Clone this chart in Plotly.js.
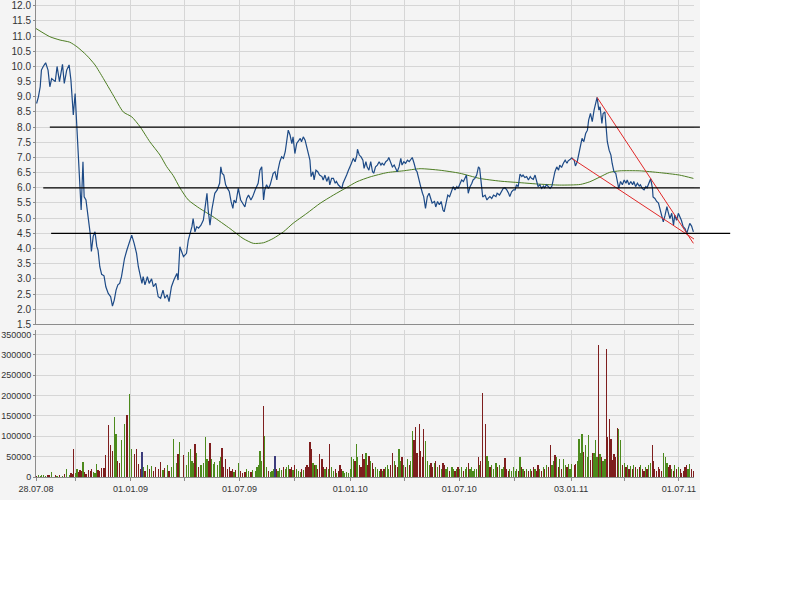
<!DOCTYPE html>
<html><head><meta charset="utf-8">
<script src="https://cdn.plot.ly/plotly-3.0.1.min.js"></script>
<style>html,body{margin:0;padding:0;background:#fff}#chart{width:800px;height:600px}</style>
</head><body><div id="chart"></div>
<script>
const priceDates = [
'2008-07-29','2008-08-01','2008-08-04','2008-08-06','2008-08-09','2008-08-13','2008-08-17','2008-08-20','2008-08-23','2008-08-29',
'2008-09-01','2008-09-05','2008-09-10','2008-09-13','2008-09-17','2008-09-21','2008-09-24','2008-09-27','2008-09-28','2008-10-01',
'2008-10-04','2008-10-06','2008-10-09','2008-10-11','2008-10-14','2008-10-16','2008-10-19','2008-10-23','2008-10-26','2008-10-28',
'2008-10-31','2008-11-03','2008-11-06','2008-11-08','2008-11-11','2008-11-14','2008-11-18','2008-11-21','2008-11-25','2008-11-29',
'2008-12-02','2008-12-05','2008-12-08','2008-12-11','2008-12-14','2008-12-17','2008-12-22','2008-12-26','2008-12-30','2009-01-03',
'2009-01-07','2009-01-11','2009-01-14','2009-01-17','2009-01-20','2009-01-22','2009-01-25','2009-01-29','2009-02-01','2009-02-05',
'2009-02-08','2009-02-12','2009-02-16','2009-02-20','2009-02-24','2009-02-27','2009-03-03','2009-03-06','2009-03-10','2009-03-14',
'2009-03-19','2009-03-21','2009-03-24','2009-03-30','2009-04-04','2009-04-07','2009-04-10','2009-04-13','2009-04-15','2009-04-18',
'2009-04-21','2009-04-24','2009-04-28','2009-05-02','2009-05-05','2009-05-08','2009-05-10','2009-05-13','2009-05-16','2009-05-19',
'2009-05-21','2009-05-25','2009-05-29','2009-05-31','2009-06-02','2009-06-05','2009-06-08','2009-06-11','2009-06-14','2009-06-17',
'2009-06-20','2009-06-22','2009-06-25','2009-06-29','2009-07-03','2009-07-06','2009-07-10','2009-07-13','2009-07-16','2009-07-20',
'2009-07-23','2009-07-27','2009-07-30','2009-08-01','2009-08-04','2009-08-07','2009-08-10','2009-08-12','2009-08-15','2009-08-18',
'2009-08-21','2009-08-24','2009-08-26','2009-08-29','2009-09-01','2009-09-03','2009-09-06','2009-09-09','2009-09-12','2009-09-15',
'2009-09-17','2009-09-20','2009-09-23','2009-09-26','2009-09-28','2009-10-01','2009-10-04','2009-10-07','2009-10-10','2009-10-12',
'2009-10-15','2009-10-18','2009-10-21','2009-10-23','2009-10-26','2009-10-28','2009-10-31','2009-11-02','2009-11-05','2009-11-08',
'2009-11-11','2009-11-15','2009-11-17','2009-11-20','2009-11-23','2009-11-26','2009-11-28','2009-12-01','2009-12-04','2009-12-07',
'2009-12-09','2009-12-12','2009-12-15','2009-12-18','2009-12-20','2009-12-23','2009-12-26','2009-12-29','2010-01-01','2010-01-03',
'2010-01-06','2010-01-09','2010-01-12','2010-01-13','2010-01-16','2010-01-19','2010-01-22','2010-01-24','2010-01-27','2010-01-29',
'2010-02-01','2010-02-04','2010-02-07','2010-02-09','2010-02-12','2010-02-15','2010-02-18','2010-02-21','2010-02-23','2010-02-26',
'2010-03-01','2010-03-04','2010-03-06','2010-03-09','2010-03-12','2010-03-15','2010-03-17','2010-03-20','2010-03-23','2010-03-26',
'2010-03-28','2010-03-31','2010-04-03','2010-04-06','2010-04-09','2010-04-11','2010-04-14','2010-04-17','2010-04-20','2010-04-22',
'2010-04-26','2010-04-28','2010-05-01','2010-05-03','2010-05-06','2010-05-09','2010-05-12','2010-05-15','2010-05-17','2010-05-21',
'2010-05-23','2010-05-26','2010-05-29','2010-06-01','2010-06-04','2010-06-06','2010-06-09','2010-06-12','2010-06-15','2010-06-19',
'2010-06-21','2010-06-24','2010-06-27','2010-06-29','2010-07-02','2010-07-05','2010-07-08','2010-07-11','2010-07-13','2010-07-16',
'2010-07-19','2010-07-22','2010-07-24','2010-07-27','2010-07-30','2010-08-02','2010-08-04','2010-08-06','2010-08-09','2010-08-13',
'2010-08-16','2010-08-18','2010-08-21','2010-08-24','2010-08-27','2010-08-31','2010-09-02','2010-09-06','2010-09-10','2010-09-12',
'2010-09-15','2010-09-18','2010-09-21','2010-09-23','2010-09-26','2010-09-29','2010-10-02','2010-10-04','2010-10-07','2010-10-10',
'2010-10-13','2010-10-15','2010-10-18','2010-10-21','2010-10-24','2010-10-27','2010-10-29','2010-11-01','2010-11-04','2010-11-07',
'2010-11-09','2010-11-12','2010-11-15','2010-11-18','2010-11-20','2010-11-23','2010-11-26','2010-11-29','2010-12-02','2010-12-04',
'2010-12-07','2010-12-10','2010-12-13','2010-12-15','2010-12-18','2010-12-21','2010-12-24','2010-12-27','2010-12-29','2011-01-01',
'2011-01-04','2011-01-08','2011-01-10','2011-01-13','2011-01-16','2011-01-19','2011-01-21','2011-01-24','2011-01-27','2011-01-30',
'2011-02-01','2011-02-04','2011-02-07','2011-02-10','2011-02-13','2011-02-15','2011-02-18','2011-02-20','2011-02-23','2011-02-25',
'2011-02-28','2011-03-02','2011-03-04','2011-03-07','2011-03-10','2011-03-12','2011-03-15','2011-03-18','2011-03-21','2011-03-23',
'2011-03-26','2011-03-29','2011-04-01','2011-04-04','2011-04-06','2011-04-09','2011-04-12','2011-04-15','2011-04-17','2011-04-20',
'2011-04-23','2011-04-26','2011-04-28','2011-05-01','2011-05-04','2011-05-07','2011-05-09','2011-05-12','2011-05-15','2011-05-18',
'2011-05-19','2011-05-22','2011-05-25','2011-05-28','2011-05-30','2011-06-02','2011-06-05','2011-06-08','2011-06-11','2011-06-13',
'2011-06-16','2011-06-19','2011-06-22','2011-06-24','2011-06-27','2011-06-30','2011-07-03','2011-07-05','2011-07-08','2011-07-11',
'2011-07-14','2011-07-16','2011-07-19','2011-07-22','2011-07-25'
];
const priceValues = [
8.78,9.00,9.33,9.88,10.00,10.12,9.88,9.33,9.60,9.50,
10.00,9.50,10.07,9.44,9.88,10.05,9.55,8.89,8.40,9.11,
8.00,7.13,6.36,5.27,6.86,5.70,5.60,5.05,4.50,3.90,
4.40,4.55,4.07,3.95,3.40,3.15,3.10,2.74,2.52,2.41,
2.10,2.30,2.63,2.80,2.85,3.07,3.67,3.95,4.22,4.44,
4.17,3.84,3.40,3.12,2.85,3.07,2.80,3.07,2.85,3.00,
2.74,2.85,2.41,2.36,2.63,2.36,2.47,2.25,2.74,2.96,
3.18,2.96,4.06,3.73,3.84,4.28,4.50,4.72,4.99,4.55,
4.72,4.67,4.77,4.94,5.37,5.82,5.27,4.77,5.27,5.65,
5.82,5.93,6.15,6.69,6.48,6.42,6.10,5.98,5.88,5.55,
5.32,5.60,5.50,5.98,5.60,5.50,5.37,5.65,5.76,5.60,
5.71,5.93,6.04,6.15,6.58,6.69,5.60,5.93,6.10,5.98,
6.10,6.37,6.48,6.53,6.26,6.58,6.86,7.02,6.97,7.19,
7.57,7.90,7.74,7.46,7.68,7.13,7.46,7.57,7.63,7.52,
7.68,7.57,7.35,7.19,6.91,6.37,6.53,6.26,6.58,6.53,
6.42,6.37,6.26,6.42,6.21,6.37,6.10,6.31,6.31,6.15,
6.21,6.10,6.04,5.98,6.15,6.26,6.42,6.58,6.69,6.81,
6.97,6.86,7.08,7.27,7.08,7.02,6.91,6.64,6.86,6.69,
6.58,6.86,6.53,6.48,6.69,6.75,6.86,6.75,6.81,6.75,
6.86,6.91,7.00,6.86,6.69,6.75,6.64,6.53,6.69,6.97,
6.75,6.86,6.81,6.91,6.86,6.91,7.00,6.81,6.58,6.53,
6.26,6.04,5.82,5.71,5.32,5.71,5.82,5.60,5.50,5.55,
5.37,5.55,5.44,5.55,5.27,5.21,5.44,5.76,5.71,5.93,
6.04,5.93,6.04,5.98,6.10,6.26,6.21,6.31,6.42,5.82,
6.04,6.15,6.26,6.31,6.42,6.69,6.64,6.26,5.70,5.76,
5.60,5.65,5.71,5.65,5.76,5.71,5.82,5.76,5.93,5.98,
6.00,5.93,5.82,5.71,5.87,5.93,5.93,6.10,6.04,6.45,
6.37,6.42,6.34,6.37,6.26,6.37,6.31,6.28,6.42,6.15,
6.04,6.10,5.98,6.06,6.00,6.10,6.04,5.98,6.06,6.31,
6.53,6.69,6.58,6.75,6.67,6.81,6.91,6.81,6.89,6.93,
6.99,6.91,6.72,6.86,7.19,7.41,7.63,7.52,7.79,7.90,
8.23,8.45,8.18,8.56,8.78,8.98,8.56,8.67,8.12,8.45,
8.50,8.01,7.52,7.24,7.08,6.81,6.53,6.48,6.10,5.98,
6.21,6.10,6.26,6.15,6.26,6.10,6.21,6.10,6.21,6.04,
6.15,6.06,6.10,5.98,5.93,6.04,6.00,6.13,6.30,5.98,
5.70,5.65,5.55,5.50,5.32,5.16,4.88,5.10,5.38,5.21,
4.99,5.16,4.77,5.10,4.93,5.16,5.05,4.93,4.72,4.66,
4.50,4.66,4.83,4.74,4.55
];
const maDates = [
'2008-07-28','2008-08-20','2008-09-06','2008-09-22','2008-10-04','2008-10-20','2008-11-03','2008-11-17','2008-12-03','2008-12-20',
'2009-01-03','2009-01-17','2009-02-02','2009-02-19','2009-03-02','2009-03-13','2009-03-24','2009-04-07','2009-04-26','2009-05-18',
'2009-06-15','2009-07-07','2009-07-24','2009-08-10','2009-08-26','2009-09-12','2009-09-28','2009-10-21','2009-11-12','2009-12-04',
'2009-12-26','2010-01-12','2010-02-03','2010-03-03','2010-03-30','2010-04-27','2010-05-30','2010-07-02','2010-08-04','2010-09-07',
'2010-10-10','2010-11-12','2010-12-15','2011-01-18','2011-02-03','2011-02-20','2011-03-08','2011-03-25','2011-04-27','2011-05-30',
'2011-07-02','2011-07-25'
];
const maValues = [
11.25,10.98,10.87,10.80,10.65,10.37,10.05,9.60,9.06,8.50,
8.34,8.01,7.52,7.08,6.70,6.40,6.00,5.60,5.32,5.05,
4.66,4.33,4.17,4.19,4.33,4.55,4.83,5.16,5.49,5.76,
6.01,6.20,6.36,6.50,6.56,6.63,6.58,6.48,6.31,6.22,
6.17,6.12,6.09,6.11,6.20,6.36,6.51,6.56,6.56,6.50,
6.42,6.31
];
const volumes = [
3000,4000,3000,5000,4000,3000,5000,4000,12000,4000,
3000,5000,3000,8000,20000,6000,10000,8000,70000,10000,
20000,12000,16000,14000,38000,12000,8000,18000,15000,20000,
12000,10000,33000,18000,15000,22000,22000,55000,127000,78000,
65000,147000,106000,40000,35000,90000,131000,152000,203000,70000,
57000,70000,33000,20000,61000,25000,15000,30000,20000,28000,
15000,25000,20000,37000,18000,22000,30000,15000,25000,94000,
35000,57000,86000,53000,30000,61000,70000,40000,35000,80000,
60000,25000,30000,35000,98000,45000,40000,84000,45000,33000,
38000,30000,40000,49000,71000,25000,45000,20000,25000,15000,
20000,12000,18000,34000,15000,10000,12000,20000,15000,12000,
18000,15000,25000,30000,63000,40000,174000,100000,25000,15000,
12000,15000,20000,51000,20000,15000,22000,18000,25000,20000,
25000,30000,20000,25000,18000,30000,20000,15000,12000,20000,
18000,25000,30000,25000,86000,70000,35000,30000,30000,20000,
57000,45000,25000,20000,25000,20000,80000,25000,15000,20000,
10000,15000,30000,20000,15000,10000,12000,10000,20000,50000,
45000,40000,82000,50000,30000,25000,57000,45000,60000,30000,
52000,40000,35000,20000,25000,20000,15000,20000,15000,20000,
25000,30000,20000,30000,60000,40000,30000,25000,70000,40000,
50000,30000,25000,45000,30000,40000,112000,92000,123000,60000,
131000,65000,50000,119000,89000,40000,30000,35000,25000,35000,
40000,25000,30000,20000,35000,30000,20000,25000,15000,25000,
20000,15000,20000,25000,20000,25000,15000,20000,25000,35000,
20000,25000,15000,20000,20000,49000,30000,40000,207000,131000,
51000,40000,25000,30000,20000,35000,25000,30000,20000,25000,
47000,20000,15000,20000,15000,25000,15000,20000,15000,49000,
25000,20000,15000,20000,15000,20000,15000,25000,20000,15000,
29000,20000,15000,25000,20000,30000,25000,78000,30000,40000,
55000,49000,25000,45000,20000,45000,30000,25000,33000,20000,
33000,30000,33000,40000,94000,60000,105000,61000,78000,50000,
102000,41000,60000,60000,90000,50000,324000,57000,49000,40000,
45000,314000,98000,142000,94000,41000,57000,50000,121000,119000,
90000,30000,35000,25000,30000,20000,28000,20000,30000,25000,
20000,25000,30000,20000,15000,25000,20000,30000,35000,78000,
40000,20000,15000,25000,20000,15000,59000,50000,35000,25000,
30000,20000,15000,30000,20000,25000,20000,10000,15000,25000,
30000,20000,33000,20000,15000
];
// u = close up, d = close down, n = unchanged
const volumeDirections = (
'duuuuuddud ududuudddu uddduddddd uuuddddddd duudduuduu ddddnududu ddddududuu ududuuuuud ' +
'uduuuudduu uuuudddddd dududdduud uuuuuuduud uuunduuudu uudduduuud udddddudud dddududuud ' +
'uddduuuuuu uduuddddud dudduuudud uuuddudduu dududuuddd dddduuuddu dududduudu ududuuduud ' +
'uuuuududdd uuduuuduuu ddduuuuudu dudududdud dudududduu dududuuduu udduuuuduu udduuududu ' +
'uddddddddu ududududud ududduduud dddddduuud dudududddd duudd').replace(/ /g, '').split('');

const levelValues = [8.0, 6.0, 4.5];
const trend1Dates = ['2011-02-15', '2011-07-25'];
const trend1Values = [8.98, 4.17];
const trend2Dates = ['2011-01-04', '2011-08-02'];
const trend2Values = [6.97, 4.22];

const tickDates = ['2008-07-28','2008-10-01','2009-01-01','2009-04-01','2009-07-01','2009-10-01','2010-01-01','2010-04-01','2010-07-01','2010-10-01','2011-01-03','2011-04-01','2011-07-01'];
const tickLabels = ['28.07.08','','01.01.09','','01.07.09','','01.01.10','','01.07.10','','03.01.11','','01.07.11'];

const dirColors = {u: '#4c8a1c', d: '#7e1e1e', n: '#3c3c7c'};
const BG = '#f4f4f4', GRID = '#d6d6d6', AXIS = '#8c8c8c';
const FAMILY = 'Liberation Sans, Arial, sans-serif';
const font10 = {family: FAMILY, size: 10, color: '#333'};
const font9 = {family: FAMILY, size: 9, color: '#333'};

const traces = [
  {type: 'bar', x: priceDates, y: volumes, xaxis: 'x', yaxis: 'y',
   width: 2 * 86400000,
   marker: {color: volumeDirections.map(d => dirColors[d]), line: {width: 0}}},
  {type: 'scatter', mode: 'lines', x: maDates, y: maValues, xaxis: 'x2', yaxis: 'y2',
   line: {color: '#4d7d22', width: 1, shape: 'spline', smoothing: 0.6}},
  {type: 'scatter', mode: 'lines', x: priceDates, y: priceValues, xaxis: 'x2', yaxis: 'y2',
   line: {color: '#1d4a86', width: 1.2}},
  {type: 'scatter', mode: 'lines', x: trend1Dates, y: trend1Values, xaxis: 'x2', yaxis: 'y2',
   line: {color: '#e02828', width: 1}},
  {type: 'scatter', mode: 'lines', x: trend2Dates, y: trend2Values, xaxis: 'x2', yaxis: 'y2',
   line: {color: '#e02828', width: 1}}
];

const levelStart = [0.021, 0.011, 0.023];
const levelEnd = [1.009, 1.009, 1.055];
const shapes = [
  {type: 'rect', xref: 'paper', yref: 'paper', x0: -0.06, x1: 1.009, y0: -0.048, y1: 1.01,
   fillcolor: BG, line: {width: 0}, layer: 'below'}
];
levelValues.forEach((v, i) => shapes.push({
  type: 'line', xref: 'paper', yref: 'y2', x0: levelStart[i], x1: levelEnd[i], y0: v, y1: v,
  line: {color: '#000', width: 1.3}, layer: 'above'}));

const xCommon = {
  type: 'date', range: ['2008-07-28', '2011-07-26'],
  tickmode: 'array', tickvals: tickDates, ticktext: tickLabels,
  showgrid: true, gridcolor: GRID, gridwidth: 1, zeroline: false,
  showline: true, linecolor: AXIS, linewidth: 1, tickfont: font9
};

const layout = {
  width: 800, height: 600,
  margin: {l: 36, r: 106, t: 0, b: 123},
  paper_bgcolor: '#ffffff', plot_bgcolor: BG,
  showlegend: false, hovermode: false, bargap: 0,
  font: font10,
  xaxis: Object.assign({}, xCommon, {anchor: 'y', ticks: 'outside', ticklen: 3, tickcolor: AXIS}),
  xaxis2: Object.assign({}, xCommon, {anchor: 'y2', matches: 'x', showticklabels: false, ticks: ''}),
  yaxis: {domain: [0, 0.308], range: [0, 361000], tickmode: 'linear', tick0: 0, dtick: 50000,
    tickformat: 'd', showgrid: true, gridcolor: GRID, zeroline: false, showline: true,
    linecolor: AXIS, ticks: 'outside', ticklen: 2, tickcolor: AXIS, tickfont: font9},
  yaxis2: {domain: [0.32, 1], range: [1.5, 12.19], tickmode: 'linear', tick0: 1.5, dtick: 0.5,
    tickformat: '.1f', showgrid: true, gridcolor: GRID, zeroline: false, showline: true,
    linecolor: AXIS, ticks: 'outside', ticklen: 2, tickcolor: AXIS, tickfont: font10},
  shapes: shapes
};

Plotly.newPlot('chart', traces, layout, {displayModeBar: false, staticPlot: true});
</script>
</body></html>
